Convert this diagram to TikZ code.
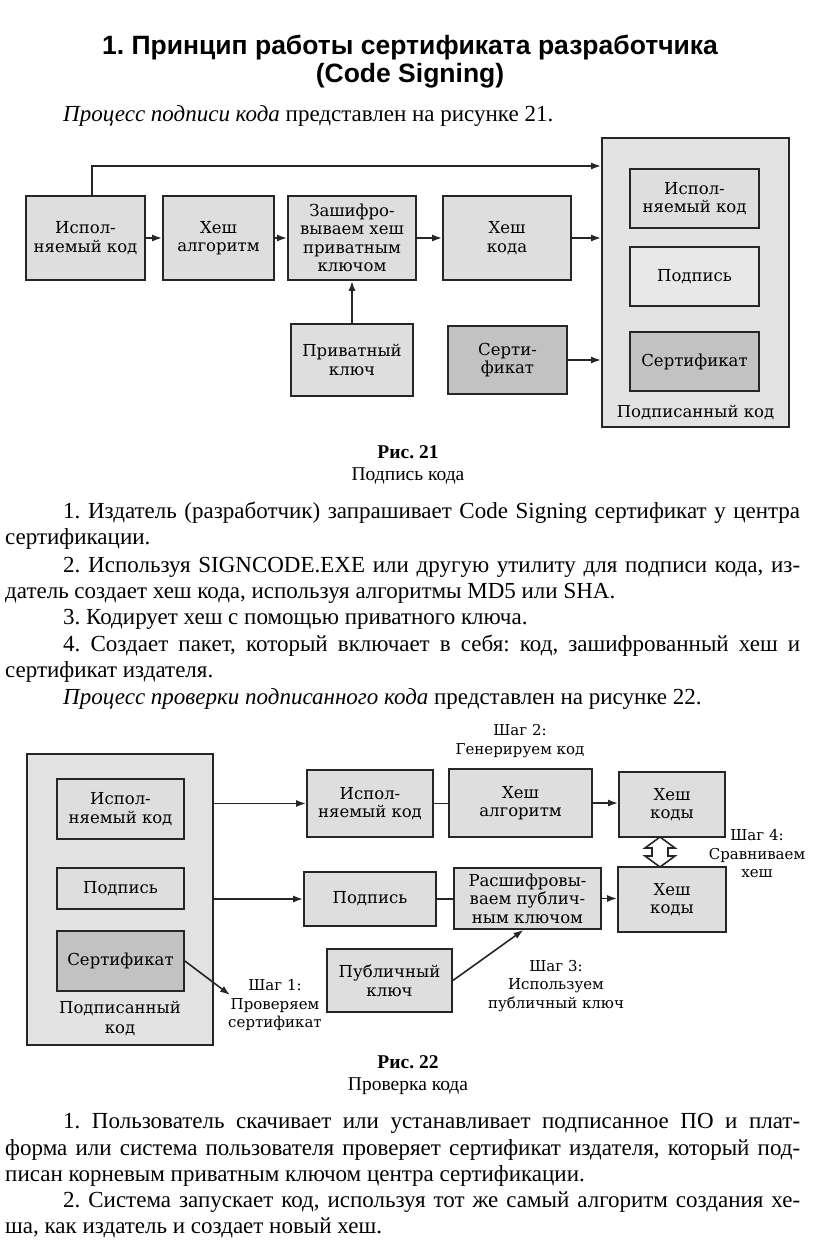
\documentclass[tikz,border=0pt]{standalone}
\usepackage{fontspec}
\setmainfont{Liberation Serif}
\newfontfamily\titlefont{Liberation Sans}
\newfontfamily\schemefont{DejaVu Serif}
\usetikzlibrary{arrows.meta,calc}
\frenchspacing

\tikzset{
  blk/.style={draw=black!85, line width=1.8pt, fill=black!13, align=center, inner sep=1pt,
    font=\schemefont\fontsize{16.5}{18.5}\selectfont},
  dblk/.style={blk, fill=black!24},
  frame/.style={draw=black!85, line width=1.8pt, fill=black!11},
  arr/.style={-{Latex[length=10pt,width=7pt]}, line width=1.6pt, draw=black!85},
  lnk/.style={line width=1.6pt, draw=black!85},
  note/.style={align=center, inner sep=0pt, font=\schemefont\fontsize{15}{18.5}\selectfont},
  txt/.style={anchor=base west, inner sep=0pt, font=\fontsize{23}{26}\selectfont},
  figcap/.style={anchor=base, inner sep=0pt, font=\fontsize{19.5}{22}\selectfont},
  heading/.style={anchor=base, inner sep=0pt, font=\titlefont\bfseries\fontsize{26.5}{29}\selectfont},
}

\begin{document}
\begin{tikzpicture}[x=1pt,y=-1pt]
  \useasboundingbox (0,0) rectangle (816,1243);
  % title
  \node[heading] (title1) at (410,54) {1. Принцип работы сертификата разработчика};
  \node[heading] (title2) at (410,82) {(Code Signing)};
  \node[txt] (intro1) at (63,121) {\textit{Процесс подписи кода} представлен на рисунке 21.};

  % figure 21
  \node[frame, minimum width=187, minimum height=289] (signed) at (695.5,282.5) {};
  \node[blk, minimum width=129, minimum height=59] (sexe) at (694.5,198.5) {Испол-\\няемый код};
  \node[blk, fill=black!9, minimum width=129, minimum height=59] (ssig) at (694.5,276.5) {Подпись};
  \node[dblk, minimum width=129, minimum height=59] (scert) at (694.5,361.5) {Сертификат};
  \node[note, font=\schemefont\fontsize{16.5}{18.5}\selectfont] (slabel) at (695.5,412) {Подписанный код};

  \node[blk, minimum width=119, minimum height=84] (exe) at (85.5,238) {Испол-\\няемый код};
  \node[blk, minimum width=111, minimum height=84] (hashalg) at (218.5,238) {Хеш\\алгоритм};
  \node[blk, minimum width=128, minimum height=84] (encr) at (352,238) {Зашифро-\\вываем хеш\\приватным\\ключом};
  \node[blk, minimum width=128, minimum height=84] (hashcode) at (507,238) {Хеш\\кода};
  \node[blk, minimum width=122, minimum height=72] (privkey) at (352,360) {Приватный\\ключ};
  \node[dblk, minimum width=119, minimum height=68] (cert) at (507.5,360) {Серти-\\фикат};

  \coordinate (bend) at (92,166);
  \draw[arr] (exe.north -| bend) -- (bend) -- (bend -| signed.west);
  \draw[arr] (exe) -- (hashalg);
  \draw[arr] (hashalg) -- (encr);
  \draw[arr] (encr) -- (hashcode);
  \draw[arr] (hashcode.east) -- (hashcode.east -| signed.west);
  \draw[arr] (privkey) -- (encr);
  \draw[arr] (cert.east) -- (cert.east -| signed.west);

  \node[figcap] (fig1a) at (408,458) {\textbf{Рис. 21}};
  \node[figcap] (fig1b) at (408,480) {Подпись кода};

  % text between the figures
  \node[txt] (p1a) at (63,518) {\makebox[737pt][s]{1. Издатель (разработчик) запрашивает Code Signing сертификат у центра}};
  \node[txt] (p1b) at (5,544) {сертификации.};
  \node[txt] (p2a) at (63,572) {\makebox[737pt][s]{2. Используя SIGNCODE.EXE или другую утилиту для подписи кода, из-}};
  \node[txt] (p2b) at (5,598) {датель создает хеш кода, используя алгоритмы MD5 или SHA.};
  \node[txt] (p3a) at (63,624) {3. Кодирует хеш с помощью приватного ключа.};
  \node[txt] (p4a) at (63,651) {\makebox[737pt][s]{4. Создает пакет, который включает в себя: код, зашифрованный хеш и}};
  \node[txt] (p4b) at (5,677) {сертификат издателя.};
  \node[txt] (intro2) at (63,704) {\textit{Процесс проверки подписанного кода} представлен на рисунке 22.};

  % figure 22
  \node[frame, minimum width=186, minimum height=291] (signed2) at (120,899.5) {};
  \node[blk, minimum width=127, minimum height=60] (vexe) at (120.5,809) {Испол-\\няемый код};
  \node[blk, minimum width=127, minimum height=41] (vsig) at (120.5,888.5) {Подпись};
  \node[dblk, minimum width=127, minimum height=60] (vcert) at (120.5,961) {Сертификат};
  \node[note, font=\schemefont\fontsize{16.5}{20}\selectfont] (vlabel) at (120,1018) {Подписанный\\код};

  \node[blk, minimum width=126, minimum height=67] (rexe) at (370,803.5) {Испол-\\няемый код};
  \node[blk, minimum width=132, minimum height=54] (rsig) at (370,899) {Подпись};
  \node[blk, minimum width=125, minimum height=63] (pubkey) at (389.5,980.5) {Публичный\\ключ};
  \node[blk, minimum width=143, minimum height=68] (halg2) at (520.5,803) {Хеш\\алгоритм};
  \node[blk, minimum width=147, minimum height=61] (decr) at (527.5,898.5) {Расшифровы-\\ваем публич-\\ным ключом};
  \node[blk, minimum width=106, minimum height=65] (hc1) at (672,804.5) {Хеш\\коды};
  \node[blk, minimum width=108, minimum height=65] (hc2) at (672,899.5) {Хеш\\коды};

  \node[note] (st1) at (275,1005) {Шаг 1:\\Проверяем\\сертификат};
  \node[note] (st2) at (520,741) {Шаг 2:\\Генерируем код};
  \node[note] (st3) at (556,986) {Шаг 3:\\Используем\\публичный ключ};
  \node[note] (st4) at (757,854) {Шаг 4:\\Сравниваем\\хеш};

  \draw[arr] (signed2.east |- rexe) -- (rexe.west);
  \draw[arr] (signed2.east |- rsig) -- (rsig.west);
  \draw[lnk] (rexe.east) -- (rexe.east -| halg2.west);
  \draw[arr] (halg2.east) -- (halg2.east -| hc1.west);
  \draw[lnk] (rsig.east) -- (rsig.east -| decr.west);
  \draw[arr] (decr.east) -- (decr.east -| hc2.west);
  \draw[arr] (pubkey.east) -- ([xshift=-4pt]decr.south);
  \coordinate (s1tip) at (230,995);
  \draw[arr] (vcert.east) -- (s1tip);
  % compare arrow
  \coordinate (cmp) at (660,852);
  \draw[line width=1.6pt, draw=black!85, fill=white] (cmp) ++(0,-15) -- ++(-15,11) -- ++(7,0) -- ++(0,8) -- ++(-7,0)
    -- ++(15,11) -- ++(15,-11) -- ++(-7,0) -- ++(0,-8) -- ++(7,0) -- cycle;

  \node[figcap] (fig2a) at (408,1068) {\textbf{Рис. 22}};
  \node[figcap] (fig2b) at (408,1090) {Проверка кода};

  % text after the figure
  \node[txt] (q1a) at (63,1128) {\makebox[737pt][s]{1. Пользователь скачивает или устанавливает подписанное ПО и плат-}};
  \node[txt] (q1b) at (5,1155) {\makebox[795pt][s]{форма или система пользователя проверяет сертификат издателя, который под-}};
  \node[txt] (q1c) at (5,1181) {писан корневым приватным ключом центра сертификации.};
  \node[txt] (q2a) at (63,1207) {\makebox[737pt][s]{2. Система запускает код, используя тот же самый алгоритм создания хе-}};
  \node[txt] (q2b) at (5,1233) {ша, как издатель и создает новый хеш.};
\end{tikzpicture}
\end{document}
